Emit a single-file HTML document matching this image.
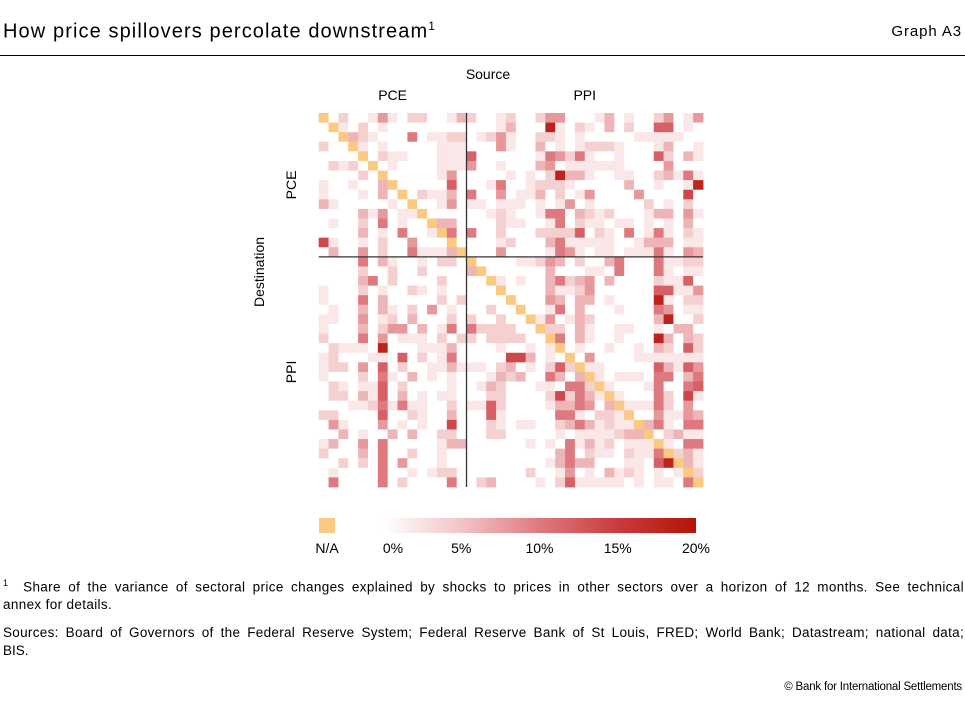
<!DOCTYPE html>
<html><head><meta charset="utf-8">
<style>
body{margin:0;background:#fff;font-family:"Liberation Sans",sans-serif;color:#000}
#wrap{position:relative;width:965px;height:706px;overflow:hidden}
.t{position:absolute;white-space:nowrap}
.j{position:absolute;left:3px;width:961px;font-size:13.5px;text-align:justify;text-align-last:justify;white-space:nowrap}
</style></head>
<body>
<div id="wrap">
<div class="t" style="left:3px;top:19px;font-size:20px;letter-spacing:1.1px">How price spillovers percolate downstream<sup style="font-size:12px">1</sup></div>
<div class="t" style="right:3px;top:23px;font-size:15px;letter-spacing:0.9px">Graph A3</div>
<div style="position:absolute;left:0;top:55px;width:965px;height:1px;background:#000"></div>
<svg id="hm" width="965" height="706" style="position:absolute;left:0;top:0"></svg>
<div>
<div class="j" style="top:578px;letter-spacing:0.35px"><sup style="font-size:9px">1</sup>&nbsp; Share of the variance of sectoral price changes explained by shocks to prices in other sectors over a horizon of 12 months. See technical</div>
<div class="t" style="left:3px;top:597px;font-size:13.5px;letter-spacing:0.35px">annex for details.</div>
</div>
<div>
<div class="j" style="top:625px;letter-spacing:0.3px">Sources: Board of Governors of the Federal Reserve System; Federal Reserve Bank of St Louis, FRED; World Bank; Datastream; national data;</div>
<div class="t" style="left:3px;top:643px;font-size:13.5px">BIS.</div>
</div>
<div class="t" style="right:3px;top:681px;font-size:11.5px;letter-spacing:-0.2px">© Bank for International Settlements</div>
</div>
<script>
const sectors = ["PCE","PPI"];
const sectorSizes = [15,24];
const tickLabels = ["0%","5%","10%","15%","20%"];
const tickValues = [0,5,10,15,20];
const matrixRows = [
["N",0,2,0,0,1,4,1,0,2,2,0,0,1,3, 2,0,0,1,2, 0,0,2,4,4,0,0,0,1,3,0,1,0,0,2,4,0,1,4],
[0,"N",1,0,2,0,1,0,0,0,0,0,0,0,0, 0,0,0,1,3, 0,0,0,9,1,0,2,1,0,3,0,2,0,0,6,6,0,1,0],
[0,0,"N",3,2,1,0,0,0,5,0,1,1,2,2, 0,1,2,4,1, 0,0,2,2,1,0,1,0,0,0,0,0,1,1,1,1,1,0,0],
[2,0,0,"N",1,0,1,0,0,0,0,0,1,1,1, 0,0,0,4,1, 0,0,3,0,1,0,1,2,2,2,1,0,0,0,1,3,0,0,1],
[0,0,0,0,"N",0,2,1,1,0,0,0,1,1,1, 6,0,0,0,0, 0,0,1,5,4,2,5,1,0,0,1,0,0,0,6,2,0,3,1],
[0,2,1,2,0,"N",0,1,0,0,0,0,1,1,1, 4,0,0,1,0, 0,0,3,4,0,1,1,1,1,1,1,0,0,0,0,4,0,0,0],
[0,0,0,0,2,0,"N",0,0,0,0,0,1,4,0, 0,0,0,0,1, 0,1,0,2,9,3,3,1,0,0,1,1,0,0,2,3,1,5,1],
[1,0,0,1,0,0,3,"N",0,0,0,0,0,6,0, 0,0,1,5,0, 0,1,2,2,2,1,0,0,0,0,0,3,0,0,1,0,0,1,9],
[1,0,0,0,1,0,3,0,"N",0,2,1,1,3,0, 5,0,0,4,0, 1,1,3,0,2,0,1,4,0,0,0,0,4,0,0,0,0,7,0],
[3,1,0,0,0,0,0,1,0,"N",0,0,1,4,0, 1,1,0,1,1, 1,0,1,0,1,4,0,1,0,0,0,0,0,2,0,1,0,2,0],
[0,0,0,0,3,1,4,0,1,1,"N",0,0,0,0, 0,0,1,2,1, 0,0,1,5,5,0,3,2,1,2,0,0,0,1,3,3,0,4,1],
[0,1,0,0,2,0,5,0,1,0,0,"N",3,3,0, 0,0,0,2,1, 1,0,0,1,5,0,2,1,1,0,1,1,0,1,0,1,0,3,0],
[0,0,0,0,3,0,1,0,5,0,0,1,"N",5,0, 5,0,0,2,0, 0,0,2,2,2,2,6,0,2,1,0,5,0,1,5,1,0,2,1],
[7,1,0,0,1,0,2,0,0,4,0,0,0,"N",0, 0,0,0,1,2, 0,0,0,3,5,1,1,1,1,1,0,0,1,3,3,3,0,1,1],
[0,3,0,0,4,0,2,0,0,5,1,1,1,3,"N", 0,0,0,4,0, 0,0,0,1,5,4,1,0,1,1,0,1,1,1,5,1,0,4,3],
[0,0,0,0,5,0,3,1,0,0,1,0,2,2,0, "N",0,0,0,0, 1,1,2,4,3,0,2,0,0,3,5,0,0,0,5,1,1,2,2],
[0,0,0,0,2,0,0,2,0,0,2,0,0,0,0, 3,"N",0,0,0, 0,0,0,3,0,0,0,1,1,0,5,0,0,0,5,1,0,1,1],
[0,0,0,0,3,5,0,2,0,0,0,0,2,0,0, 0,0,"N",1,0, 1,0,0,3,5,2,3,4,0,3,0,0,0,0,2,1,1,6,0],
[1,0,0,0,2,0,1,0,0,2,1,0,1,0,0, 0,0,0,"N",0, 0,0,0,3,1,1,2,4,0,0,0,0,0,0,6,6,1,1,4],
[1,0,0,0,5,0,3,0,0,0,0,0,2,0,2, 0,0,0,0,"N", 0,0,0,4,3,0,3,3,0,1,0,0,0,0,9,1,0,2,2],
[0,1,0,0,3,0,3,1,0,2,0,4,0,1,0, 0,0,2,0,0, "N",0,0,1,5,0,3,0,0,0,1,0,0,0,5,4,0,1,1],
[1,1,0,0,4,0,1,2,0,3,0,0,0,2,0, 2,0,0,2,0, 0,"N",1,4,0,1,3,2,0,0,0,0,0,0,3,9,0,0,2],
[1,0,0,0,3,0,2,4,4,0,3,0,1,5,0, 5,2,2,2,2, 0,0,"N",2,2,0,3,1,0,0,1,1,0,0,1,0,3,3,0],
[2,0,0,0,5,0,4,0,1,1,1,0,2,0,2, 2,0,2,2,2, 2,0,0,"N",5,0,3,1,0,0,1,0,0,0,9,3,0,3,2],
[0,2,1,1,1,0,9,0,0,0,1,1,1,3,0, 0,0,0,1,0, 0,1,0,1,"N",0,1,0,0,1,0,0,1,0,3,2,0,6,2],
[1,2,0,0,0,1,1,0,6,0,2,0,1,5,0, 0,0,0,0,7, 7,3,0,1,0,"N",0,4,0,0,0,0,1,1,1,1,1,1,1],
[1,2,2,0,4,0,6,0,2,0,0,1,1,3,1, 1,1,0,2,3, 0,1,0,2,6,2,"N",1,1,0,0,0,0,0,6,3,1,6,4],
[1,0,0,0,2,0,5,1,0,3,0,1,0,1,0, 0,0,1,3,2, 3,0,0,5,3,0,3,"N",1,0,1,1,1,0,5,5,0,3,5],
[0,2,1,0,1,1,6,0,2,0,0,0,0,1,0, 0,1,3,2,0, 0,0,1,1,0,5,5,2,"N",1,0,0,0,1,5,0,0,5,6],
[0,2,2,0,3,1,6,0,3,0,1,0,1,1,0, 0,0,2,2,0, 0,0,0,2,7,2,5,3,1,"N",1,0,0,0,5,2,0,7,1],
[0,0,0,1,1,2,5,1,5,1,1,0,0,2,0, 1,1,6,2,0, 0,0,0,1,3,3,5,4,0,3,"N",1,1,1,5,2,0,4,0],
[2,2,0,0,0,0,6,0,0,2,1,0,0,3,0, 0,0,6,1,0, 0,0,0,0,5,5,1,0,2,2,1,"N",0,0,4,1,1,4,3],
[0,4,1,0,0,0,4,0,1,0,1,0,0,7,0, 0,0,2,1,0, 1,1,0,0,2,3,5,3,1,2,1,1,"N",3,5,1,0,5,5],
[0,0,3,0,1,0,0,3,0,3,0,0,2,2,0, 0,0,2,2,0, 0,0,0,0,1,0,1,1,1,1,2,3,3,"N",0,2,3,1,1],
[1,3,0,0,4,0,5,0,0,0,0,0,1,3,3, 0,0,0,0,0, 0,1,0,1,0,5,1,3,1,2,0,1,1,1,"N",1,0,5,5],
[2,0,0,0,3,0,5,0,0,2,0,0,1,0,0, 0,0,0,0,0, 0,0,0,0,3,5,0,2,1,1,0,2,1,1,5,"N",2,3,1],
[0,0,2,0,2,0,5,0,4,0,0,0,1,0,0, 0,0,0,0,0, 0,0,0,1,3,5,3,3,0,0,0,1,1,0,6,9,"N",3,1],
[0,1,0,0,0,0,5,0,0,1,0,1,2,2,0, 0,0,0,0,0, 0,2,0,0,1,4,0,1,0,3,1,2,1,0,1,0,1,"N",2],
[0,5,0,0,0,0,5,0,2,0,0,0,0,5,0, 0,2,3,0,0, 0,0,1,0,2,6,1,1,1,1,1,0,1,0,1,1,0,5,"N"]
];
const valueScale = 2;
(function(){
const svg=document.getElementById('hm');
const NS='http://www.w3.org/2000/svg';
const n=matrixRows.length;
const X0=318.7,Y0=113,W=384.3,H=374;
const cw=W/n,ch=H/n;
const xPos=c=>X0+c*cw, yPos=r=>Y0+r*ch;
const stops=[[0,[255,255,255]],[5,[242,196,198]],[10,[222,122,127]],[15,[202,58,62]],[20,[180,20,4]]];
function color(v){v=Math.max(0,Math.min(20,v));for(let i=1;i<stops.length;i++){if(v<=stops[i][0]){const a=stops[i-1],b=stops[i];const t=(v-a[0])/(b[0]-a[0]);const c=a[1].map((x,k)=>Math.round(x+(b[1][k]-x)*t));return`rgb(${c})`;}}return'rgb(180,20,4)';}
function mk(tag,attrs){const e=document.createElementNS(NS,tag);for(const k in attrs)e.setAttribute(k,attrs[k]);svg.appendChild(e);return e;}
matrixRows.forEach((row,r)=>{row.forEach((d,c)=>{
 const fill=d==="N"?'#fbc97f':color(d*valueScale);
 const e=mk('rect',{x:xPos(c).toFixed(2),y:yPos(r).toFixed(2),width:(cw+0.4).toFixed(2),height:(ch+0.4).toFixed(2),fill:fill});
 
 
});});
const split=sectorSizes[0];
const vl=mk('line',{x1:xPos(split),x2:xPos(split),y1:Y0,y2:Y0+H,stroke:'#333','stroke-width':1.3});


const hl=mk('line',{x1:X0,x2:X0+W,y1:yPos(split),y2:yPos(split),stroke:'#333','stroke-width':1.3});


function txt(s,x,y,name,extra){const e=mk('text',Object.assign({x:x,y:y,'font-size':14,'font-family':'Liberation Sans, sans-serif','text-anchor':'middle'},extra||{}));e.textContent=s;return e;}
txt('Source',488,79,'x-axis-title');
txt(sectors[0],(xPos(0)+xPos(split))/2,100,'x-group-pce');
txt(sectors[1],(xPos(split)+xPos(n))/2,100,'x-group-ppi');
txt(sectors[0],0,0,'y-group-pce',{transform:`translate(296,${(yPos(0)+yPos(split))/2}) rotate(-90)`});
txt(sectors[1],0,0,'y-group-ppi',{transform:`translate(296,${(yPos(split)+yPos(n))/2}) rotate(-90)`});
txt('Destination',0,0,'y-axis-title',{transform:`translate(264,272) rotate(-90)`});
const na=mk('rect',{x:319,y:518,width:16,height:15,fill:'#fbc97f'});


txt('N/A',327,553,'legend-na-label');
const LX0=383,LX1=696;
const lx=v=>LX0+(LX1-LX0)*v/20;
const defs=mk('defs',{});
const g=document.createElementNS(NS,'linearGradient');g.setAttribute('id','lg');defs.appendChild(g);
stops.forEach(s=>{const st=document.createElementNS(NS,'stop');st.setAttribute('offset',(s[0]/20*100)+'%');st.setAttribute('stop-color',`rgb(${s[1]})`);g.appendChild(st);});
const bar=mk('rect',{x:LX0,y:518,width:LX1-LX0,height:15,fill:'url(#lg)'});


tickValues.forEach((v,i)=>{txt(tickLabels[i],lx(v)+(i===0?10:0),553,'legend-tick-label');});
})();
</script>
</body></html>
